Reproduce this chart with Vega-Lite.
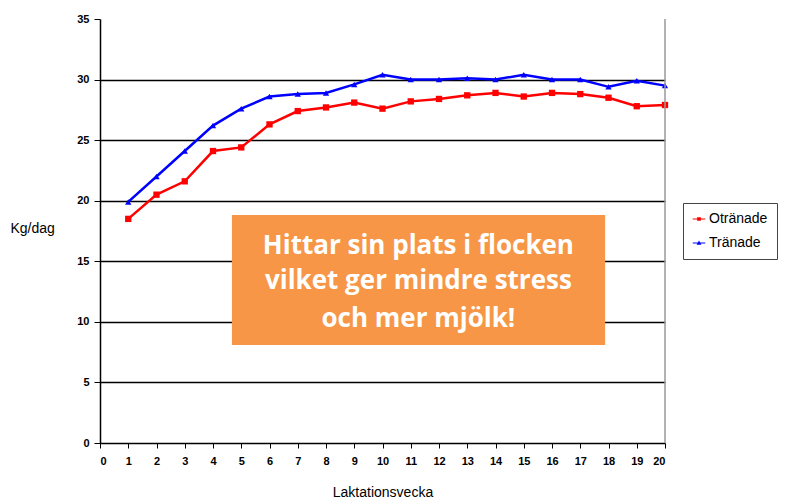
{
  "$schema": "https://vega.github.io/schema/vega-lite/v6.json",
  "autosize": "none",
  "width": 565,
  "height": 424,
  "padding": {"left": 100, "top": 19, "right": 127, "bottom": 60},
  "background": "white",
  "config": {"view": {"stroke": null}, "font": "Liberation Sans", "axis": {"labelOverlap": false}},
  "datasets": {
    "milk": [
      {"vecka": 1, "kg": 18.5, "grupp": "Otränade"},
      {"vecka": 2, "kg": 20.5, "grupp": "Otränade"},
      {"vecka": 3, "kg": 21.6, "grupp": "Otränade"},
      {"vecka": 4, "kg": 24.1, "grupp": "Otränade"},
      {"vecka": 5, "kg": 24.4, "grupp": "Otränade"},
      {"vecka": 6, "kg": 26.3, "grupp": "Otränade"},
      {"vecka": 7, "kg": 27.4, "grupp": "Otränade"},
      {"vecka": 8, "kg": 27.7, "grupp": "Otränade"},
      {"vecka": 9, "kg": 28.1, "grupp": "Otränade"},
      {"vecka": 10, "kg": 27.6, "grupp": "Otränade"},
      {"vecka": 11, "kg": 28.2, "grupp": "Otränade"},
      {"vecka": 12, "kg": 28.4, "grupp": "Otränade"},
      {"vecka": 13, "kg": 28.7, "grupp": "Otränade"},
      {"vecka": 14, "kg": 28.9, "grupp": "Otränade"},
      {"vecka": 15, "kg": 28.6, "grupp": "Otränade"},
      {"vecka": 16, "kg": 28.9, "grupp": "Otränade"},
      {"vecka": 17, "kg": 28.8, "grupp": "Otränade"},
      {"vecka": 18, "kg": 28.5, "grupp": "Otränade"},
      {"vecka": 19, "kg": 27.8, "grupp": "Otränade"},
      {"vecka": 20, "kg": 27.9, "grupp": "Otränade"},
      {"vecka": 1, "kg": 19.9, "grupp": "Tränade"},
      {"vecka": 2, "kg": 22.0, "grupp": "Tränade"},
      {"vecka": 3, "kg": 24.1, "grupp": "Tränade"},
      {"vecka": 4, "kg": 26.2, "grupp": "Tränade"},
      {"vecka": 5, "kg": 27.6, "grupp": "Tränade"},
      {"vecka": 6, "kg": 28.6, "grupp": "Tränade"},
      {"vecka": 7, "kg": 28.8, "grupp": "Tränade"},
      {"vecka": 8, "kg": 28.9, "grupp": "Tränade"},
      {"vecka": 9, "kg": 29.6, "grupp": "Tränade"},
      {"vecka": 10, "kg": 30.4, "grupp": "Tränade"},
      {"vecka": 11, "kg": 30.0, "grupp": "Tränade"},
      {"vecka": 12, "kg": 30.0, "grupp": "Tränade"},
      {"vecka": 13, "kg": 30.1, "grupp": "Tränade"},
      {"vecka": 14, "kg": 30.0, "grupp": "Tränade"},
      {"vecka": 15, "kg": 30.4, "grupp": "Tränade"},
      {"vecka": 16, "kg": 30.0, "grupp": "Tränade"},
      {"vecka": 17, "kg": 30.0, "grupp": "Tränade"},
      {"vecka": 18, "kg": 29.4, "grupp": "Tränade"},
      {"vecka": 19, "kg": 29.9, "grupp": "Tränade"},
      {"vecka": 20, "kg": 29.5, "grupp": "Tränade"}
    ],
    "box": [{"x1": 4.67, "x2": 17.88, "y1": 8.09, "y2": 18.83}],
    "label": [
      {"x": 11.27, "y": 16.3, "t": "Hittar sin plats i flocken"},
      {"x": 11.27, "y": 13.4, "t": "vilket ger mindre stress"},
      {"x": 11.27, "y": 10.2, "t": "och mer mjölk!"}
    ]
  },
  "encoding": {
    "x": {
      "field": "vecka", "type": "quantitative",
      "scale": {"domain": [0, 20], "nice": false},
      "axis": {
        "title": "Laktationsvecka", "values": [0,1,2,3,4,5,6,7,8,9,10,11,12,13,14,15,16,17,18,19,20],
        "labelOverlap": false,
        "grid": false, "domainColor": "black", "domainWidth": 1.5, "tickColor": "black", "tickSize": 5,
        "labelFont": "Liberation Sans", "labelFontWeight": "bold", "labelFontSize": 11, "labelColor": "black", "labelPadding": 7,
        "titleFont": "Liberation Sans", "titleFontWeight": "normal", "titleFontSize": 14, "titleColor": "black",
        "titleY": 49, "titleBaseline": "middle"
      }
    },
    "y": {
      "field": "kg", "type": "quantitative",
      "scale": {"domain": [0, 35], "nice": false},
      "axis": {
        "title": "Kg/dag", "values": [0,5,10,15,20,25,30,35],
        "grid": true, "gridColor": "black", "gridWidth": 1.3,
        "gridOpacity": {"condition": {"test": "datum.value === 35 || datum.value === 0", "value": 0}, "value": 1},
        "domainColor": "black", "domainWidth": 1.5, "tickColor": "black", "tickSize": 6,
        "labelFont": "Liberation Sans", "labelFontWeight": "bold", "labelFontSize": 11, "labelColor": "black", "labelPadding": 5,
        "titleFont": "Liberation Sans", "titleFontWeight": "normal", "titleFontSize": 14, "titleColor": "black",
        "titleAngle": 0, "titleX": -90, "titleY": 209, "titleAlign": "left", "titleBaseline": "middle"
      }
    }
  },
  "layer": [
    {
      "data": {"name": "milk"},
      "mark": {"type": "line", "strokeWidth": 2.5},
      "encoding": {
        "color": {
          "field": "grupp", "type": "nominal",
          "scale": {"domain": ["Otränade", "Tränade"], "range": ["#FF0000", "#0000FF"]},
          "legend": {
            "title": null, "orient": "none", "legendX": 583, "legendY": 184,
            "strokeColor": "#444", "padding": 9, "labelFont": "Liberation Sans", "labelFontSize": 14, "labelColor": "black",
            "symbolType": "M-1,-0.1H1V0.1H-1Z M-0.3,-0.3H0.3V0.3H-0.3Z", "symbolSize": 156, "symbolStrokeWidth": 0,
            "rowPadding": 10, "labelOffset": 3,
            "encode": {
              "symbols": {
                "update": {
                  "shape": {"signal": "datum.value === 'Tränade' ? 'M-1,-0.1H1V0.1H-1Z M0,-0.42L0.38,0.3H-0.38Z' : 'M-1,-0.1H1V0.1H-1Z M-0.3,-0.3H0.3V0.3H-0.3Z'"},
                  "fill": {"signal": "datum.value === 'Tränade' ? '#0000FF' : '#FF0000'"},
                  "strokeWidth": {"value": 0}
                }
              }
            }
          }
        }
      }
    },
    {
      "data": {"name": "milk"},
      "transform": [{"filter": "datum.grupp === 'Otränade'"}],
      "mark": {"type": "point", "filled": true, "opacity": 1, "size": 40, "shape": "square"},
      "encoding": {
        "color": {"field": "grupp", "type": "nominal", "legend": null}
      }
    },
    {
      "data": {"name": "milk"},
      "transform": [{"filter": "datum.grupp === 'Tränade'"}],
      "mark": {"type": "point", "filled": true, "opacity": 1, "size": 40, "shape": "triangle-up"},
      "encoding": {
        "color": {"field": "grupp", "type": "nominal", "legend": null}
      }
    },
    {
      "data": {"values": [{"v": 20}]},
      "mark": {"type": "rule", "color": "#999999", "strokeWidth": 1.5},
      "encoding": {"x": {"field": "v", "type": "quantitative"}, "y": null}
    },
    {
      "data": {"name": "box"},
      "mark": {"type": "rect", "color": "#F79646"},
      "encoding": {
        "x": {"field": "x1", "type": "quantitative"},
        "x2": {"field": "x2"},
        "y": {"field": "y1", "type": "quantitative"},
        "y2": {"field": "y2"}
      }
    },
    {
      "data": {"name": "label"},
      "mark": {"type": "text", "color": "white", "font": "Open Sans", "fontWeight": "bold", "fontSize": 26, "align": "center", "baseline": "middle"},
      "encoding": {
        "x": {"field": "x", "type": "quantitative"},
        "y": {"field": "y", "type": "quantitative"},
        "text": {"field": "t"}
      }
    }
  ]
}
